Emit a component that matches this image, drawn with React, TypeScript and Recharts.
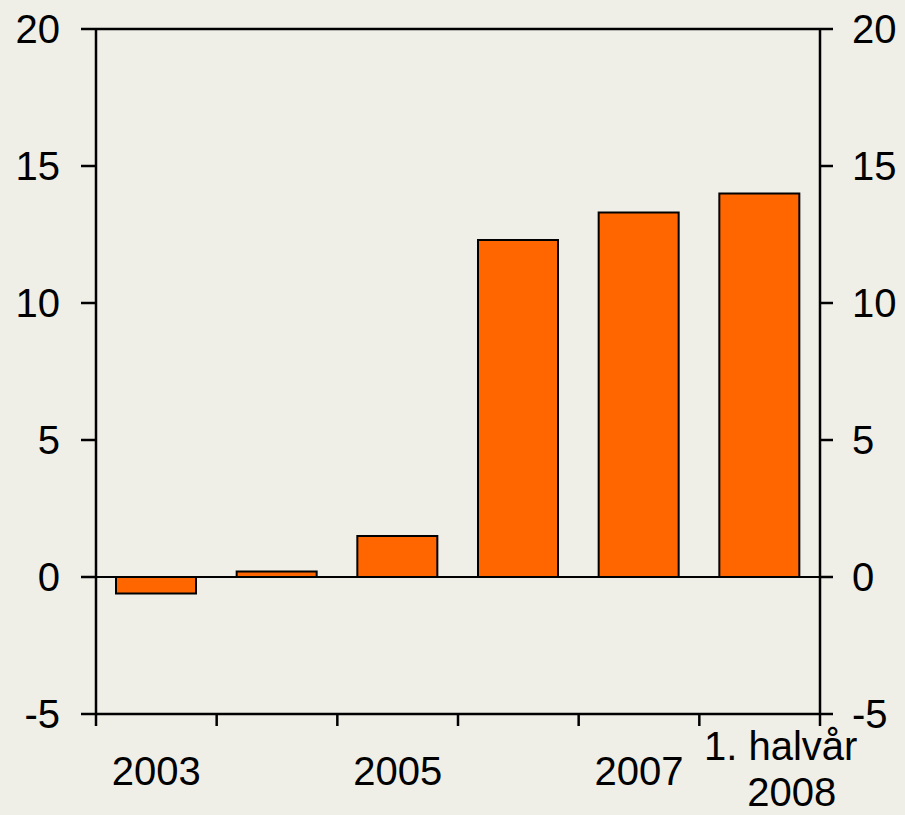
import {
  ComposedChart, Bar, Line, XAxis, YAxis, ReferenceLine,
} from "recharts";

const categories = ["2003", "2004", "2005", "2006", "2007", "1. halvår 2008"];
const values = [-0.6, 0.2, 1.5, 12.3, 13.3, 14.0];
// shown under every other category, the last one on two lines
const tickLabels = [["2003"], [], ["2005"], [], ["2007"], ["1. halvår", "2008"]];
const yTicks = [-5, 0, 5, 10, 15, 20];

const chartData = categories.map((name, i) => ({ name, value: values[i] }));

const FONT = '"Liberation Sans", Arial, sans-serif';
const BG = "#EFEEE7";

const XTick = (props: any) => {
  const { x, y, index, payload, width, visibleTicksCount } = props;
  const half = payload?.offset || width / visibleTicksCount / 2;
  const lines = tickLabels[index] || [];
  const last = index === categories.length - 1;
  return (
    <g>
      <line x1={x - half} x2={x - half} y1={y} y2={y + 12} stroke="#000" strokeWidth={2.5} />
      {last && <line x1={x + half} x2={x + half} y1={y} y2={y + 12} stroke="#000" strokeWidth={2.5} />}
      {lines.length === 1 && (
        <text x={x} y={y + 71} textAnchor="middle" fontSize={40} fontFamily={FONT} fill="#000">
          {lines[0]}
        </text>
      )}
      {lines.length === 2 && (
        <>
          <text x={x + 21} y={y + 46} textAnchor="middle" fontSize={40} fontFamily={FONT} fill="#000">
            {lines[0]}
          </text>
          <text x={x + 32} y={y + 92} textAnchor="middle" fontSize={40} fontFamily={FONT} fill="#000">
            {lines[1]}
          </text>
        </>
      )}
    </g>
  );
};

const App = () => {
  const tickStyle = { fontSize: 40, fill: "#000", fontFamily: FONT };
  return (
    <div style={{ position: "absolute", top: 0, left: 0, width: 905, height: 815, background: BG }}>
      <ComposedChart
        width={905}
        height={815}
        data={chartData}
        margin={{ top: 29, right: 0, bottom: 0, left: 0 }}
      >
        <XAxis
          dataKey="name"
          height={101}
          interval={0}
          tickLine={false}
          tickSize={0}
          tickMargin={0}
          axisLine={{ stroke: "#000", strokeWidth: 2.5 }}
          tick={<XTick />}
        />
        <YAxis
          yAxisId="left"
          width={96}
          domain={[-5, 20]}
          ticks={yTicks}
          interval={0}
          tickSize={15}
          tickMargin={21}
          tick={tickStyle}
          tickLine={{ stroke: "#000", strokeWidth: 2.5 }}
          axisLine={{ stroke: "#000", strokeWidth: 2.5 }}
        />
        <YAxis
          yAxisId="right"
          orientation="right"
          width={85}
          domain={[-5, 20]}
          ticks={yTicks}
          interval={0}
          tickSize={13}
          tickMargin={19}
          tick={tickStyle}
          tickLine={{ stroke: "#000", strokeWidth: 2.5 }}
          axisLine={{ stroke: "#000", strokeWidth: 2.5 }}
        />
        <ReferenceLine yAxisId="right" y={20} stroke="#000" strokeWidth={2.5} />
        <ReferenceLine yAxisId="left" y={0} stroke="#000" strokeWidth={2} />
        <Bar
          yAxisId="left"
          dataKey="value"
          fill="#FF6600"
          stroke="#000"
          strokeWidth={2}
          barSize={80}
          isAnimationActive={false}
        />
        {/* invisible series so the right axis has something bound to it */}
        <Line
          yAxisId="right"
          dataKey="value"
          stroke="none"
          dot={false}
          activeDot={false}
          legendType="none"
          isAnimationActive={false}
        />
      </ComposedChart>
    </div>
  );
};

export default App;
